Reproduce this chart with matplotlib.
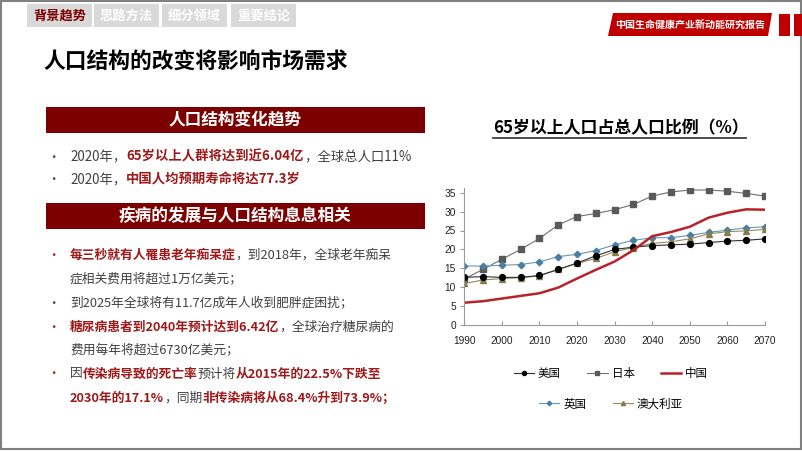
import matplotlib
matplotlib.use('Agg')
import matplotlib.pyplot as plt
from matplotlib.patches import Rectangle, Polygon

plt.rcParams['font.family'] = ['Noto Sans CJK SC', 'DejaVu Sans']

# ---- chart data (share of population aged 65+, %) ----
years = [1990, 1995, 2000, 2005, 2010, 2015, 2020, 2025, 2030, 2035,
         2040, 2045, 2050, 2055, 2060, 2065, 2070]
usa = [12.6, 12.8, 12.6, 12.6, 13.1, 14.7, 16.4, 18.3, 20.0, 20.6,
       21.0, 21.2, 21.4, 21.8, 22.2, 22.4, 22.8]
japan = [12.2, 14.7, 17.4, 20.0, 22.9, 26.5, 28.7, 29.5, 30.5, 31.9,
         34.1, 35.2, 35.7, 35.7, 35.4, 34.8, 34.1]
china = [5.9, 6.3, 7.0, 7.7, 8.4, 9.9, 12.3, 14.6, 16.8, 19.8,
         23.5, 24.6, 26.0, 28.4, 29.7, 30.6, 30.5]
uk = [15.6, 15.6, 15.8, 16.0, 16.7, 18.1, 18.7, 19.7, 21.2, 22.4,
      23.1, 23.1, 23.7, 24.5, 25.1, 25.7, 26.0]
australia = [11.0, 11.9, 12.3, 12.5, 13.0, 14.7, 16.3, 17.6, 19.4, 20.5,
             21.6, 22.0, 22.8, 24.1, 24.7, 24.9, 25.3]
xticks = [1990, 2000, 2010, 2020, 2030, 2040, 2050, 2060, 2070]
yticks = [0, 5, 10, 15, 20, 25, 30, 35]

tabs = ['背景趋势', '思路方法', '细分领域', '重要结论']

DARK = '#404040'
RED = '#9e1a1a'
MAROON = '#7d0000'

fig = plt.figure(figsize=(8.02, 4.51), dpi=100)
ax0 = fig.add_axes([0, 0, 1, 1])
ax0.set_xlim(0, 802)
ax0.set_ylim(451, 0)
ax0.axis('off')

# slide frame
ax0.add_patch(Rectangle((0.8, 0.8), 800.4, 448.6, fill=False, edgecolor='#808080', lw=1.5))

# top tabs
tab_x = [27, 94, 162, 231]
for i, (label, x) in enumerate(zip(tabs, tab_x)):
    ax0.add_patch(Rectangle((x, 4), 65, 23, color='#d9d9d9', lw=0))
    ax0.text(x + 32.5, 15.5, label, fontsize=9.5, weight='bold', ha='center', va='center',
             color=MAROON if i == 0 else 'white')

# top-right banner
ax0.add_patch(Polygon([(613, 13), (772, 13), (768, 36), (608, 36)], closed=True, color='#c00000', lw=0))
ax0.text(690, 24.5, '中国生命健康产业新动能研究报告', fontsize=7.2, weight='bold',
         color='white', ha='center', va='center')
ax0.add_patch(Rectangle((779, 14), 11, 22, color='#c00000', lw=0))
ax0.add_patch(Rectangle((794, 14), 8, 22, color='#c00000', lw=0))

# main title
ax0.text(43, 62, '人口结构的改变将影响市场需求', fontsize=15.7, weight='bold', color='black',
         ha='left', va='center')

# section headers
for y0, label in [(107, '人口结构变化趋势'), (203, '疾病的发展与人口结构息息相关')]:
    ax0.add_patch(Rectangle((45.5, y0), 379.5, 26, color=MAROON, lw=0))
    ax0.text(235, y0 + 13, label, fontsize=12, weight='bold', color='white',
             ha='center', va='center')

renderer = fig.canvas.get_renderer()


def rich(x, y, parts, size=9.2):
    for txt, hot in parts:
        t = ax0.text(x, y, txt, fontsize=size, ha='left', va='center',
                     color=RED if hot else DARK, weight='bold' if hot else 'normal')
        x = t.get_window_extent(renderer).x1


def bullet(y, hot):
    ax0.text(53, y, '•', fontsize=9, ha='center', va='center', color=RED if hot else DARK)


bullet(157, False)
rich(70, 157, [('2020年，', False), ('65岁以上人群将达到近6.04亿', True), ('，全球总人口11%', False)], 9.6)
bullet(180, False)
rich(70, 180, [('2020年，', False), ('中国人均预期寿命将达77.3岁', True)], 9.6)

bullet(255, True)
rich(70, 255, [('每三秒就有人罹患老年痴呆症', True), ('，到2018年，全球老年痴呆', False)])
rich(70, 279, [('症相关费用将超过1万亿美元；', False)])
bullet(303, False)
rich(70, 303, [('到2025年全球将有11.7亿成年人收到肥胖症困扰；', False)])
bullet(327, True)
rich(70, 327, [('糖尿病患者到2040年预计达到6.42亿', True), ('，全球治疗糖尿病的', False)])
rich(70, 351, [('费用每年将超过6730亿美元；', False)])
bullet(374, True)
rich(70, 374, [('因', False), ('传染病导致的死亡率', True), ('预计将', False), ('从2015年的22.5%下跌至', True)])
rich(70, 398, [('2030年的17.1%', True), ('，同期', False), ('非传染病将从68.4%升到73.9%；', True)])

# chart title with underline
ax0.text(493, 128, '65岁以上人口占总人口比例（%）', fontsize=12.2, weight='bold', color='black',
         ha='left', va='center')
ax0.plot([493, 746], [137.5, 137.5], color='#404040', lw=1.3)

# ---- line chart ----
y_per = 132.3 / 35
ax = fig.add_axes([464.3 / 802, (451 - 325) / 451, 300.7 / 802, 36.2 * y_per / 451])
ax.set_facecolor('none')

c_usa, c_jp, c_cn, c_uk, c_au = 'black', '#5a5a5a', '#b8232a', '#4a7fa3', '#857c4e'
ax.plot(years, japan, color='#707070', lw=0.8, marker='s', ms=4.2, mfc=c_jp, mec=c_jp, label='日本')
ax.plot(years, uk, color='#6a96b5', lw=0.8, marker='D', ms=3.3, mfc=c_uk, mec=c_uk, label='英国')
ax.plot(years, australia, color='#948a60', lw=0.8, marker='^', ms=4.3, mfc=c_au, mec=c_au, label='澳大利亚')
ax.plot(years, usa, color='#303030', lw=0.8, marker='o', ms=4.2, mfc=c_usa, mec=c_usa, label='美国')
ax.plot(years, china, color=c_cn, lw=1.8, label='中国')

ax.set_xlim(1990, 2070)
ax.set_ylim(0, 36.2)
ax.set_xticks(xticks)
ax.set_yticks(yticks)
for s in ['top', 'right']:
    ax.spines[s].set_visible(False)
for s in ['left', 'bottom']:
    ax.spines[s].set_color('#9a9a9a')
    ax.spines[s].set_linewidth(0.8)
ax.tick_params(axis='both', labelsize=7.3, colors='#9a9a9a', labelcolor='#222222',
               length=3, width=0.8)
ax.tick_params(axis='x', direction='in', pad=8)
ax.tick_params(axis='y', direction='out', pad=3)
for lab in ax.get_xticklabels() + ax.get_yticklabels():
    lab.set_family('Liberation Sans')

h = {l.get_label(): l for l in ax.get_lines()}
leg_kw = dict(loc='center', frameon=False, fontsize=8.3, handlelength=1.75,
              handletextpad=0.35, columnspacing=2.3, markerscale=0.7)
fig.legend([h['美国'], h['日本'], h['中国']], ['美国', '日本', '中国'], ncol=3,
           bbox_to_anchor=(611 / 802, 1 - 374 / 451), **leg_kw)
fig.legend([h['英国'], h['澳大利亚']], ['英国', '澳大利亚'], ncol=2,
           bbox_to_anchor=(611 / 802, 1 - 404 / 451), **leg_kw)

fig.savefig('out.png', dpi=100)
